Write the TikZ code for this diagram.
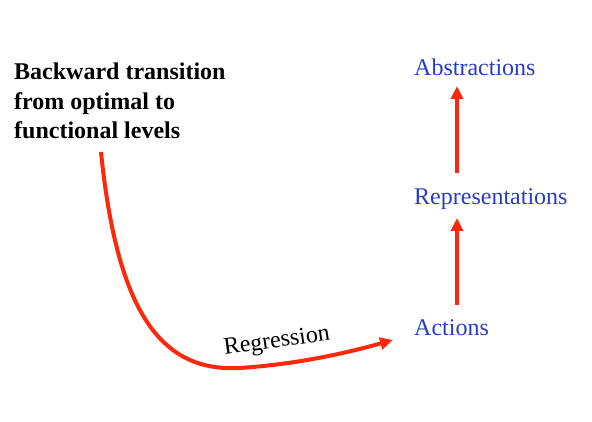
\documentclass[tikz,border=0pt]{standalone}
\usepackage{fontspec}
\setmainfont{Liberation Serif}
\usetikzlibrary{arrows.meta}
\definecolor{lblue}{RGB}{40,60,200}
\definecolor{ared}{RGB}{255,40,10}
\tikzset{
  level/.style={anchor=base west, inner sep=0pt, text=lblue, font=\fontsize{24}{28}\selectfont},
  redarrow/.style={draw=ared, line width=4pt, -{Triangle[length=13pt,width=12pt]}},
}
\begin{document}
\begin{tikzpicture}[x=1pt,y=-1pt]
\useasboundingbox (0,0) rectangle (592,422);
\node[level] (abs) at (414,76) {Abstractions};
\node[level] (rep) at (414,205) {Representations};
\node[level] (act) at (414,335) {Actions};
\node[anchor=base west, inner sep=0pt, align=left, font=\fontsize{24}{29.5}\selectfont\bfseries] (back) at (14,139) {Backward transition\\from optimal to\\functional levels};
\coordinate (start) at (101,152);
\coordinate (low) at (240,368);
\coordinate (tip) at (393,340);
\coordinate (a1) at (457,305);
\coordinate (a2) at (457,218);
\coordinate (b1) at (457,173);
\coordinate (b2) at (457,86);
\draw[redarrow] (a1) -- (a2);
\draw[redarrow] (b1) -- (b2);
\draw[redarrow] (start) .. controls (118,320) and (165,372) .. (low) .. controls (300,364) and (350,352) .. (tip);
\node[rotate=8, inner sep=0pt, font=\fontsize{24}{28}\selectfont] (reg) at (277,342) {Regression};
\end{tikzpicture}
\end{document}
